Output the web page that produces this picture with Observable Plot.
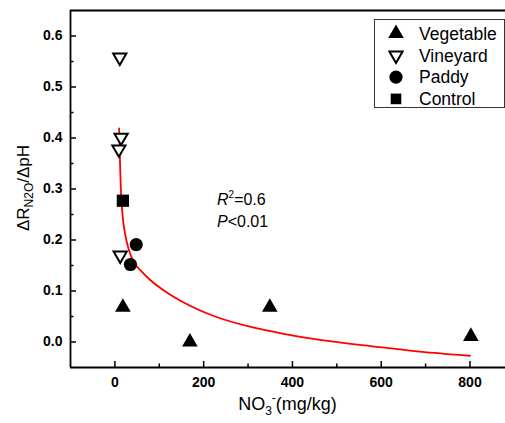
<!DOCTYPE html>
<html><head><meta charset="utf-8">
<script src="https://cdn.jsdelivr.net/npm/d3@7"></script>
<script src="https://cdn.jsdelivr.net/npm/@observablehq/plot@0.6"></script>
<style>body{margin:0;background:#fff}#chart svg{display:block}</style>
</head><body><div id="chart"></div>
<script>
// ---- data ----
const vegetableX = [18, 169, 349, 802];
const vegetableY = [0.068, 0.0, 0.068, 0.011];
const vineyardX = [11, 14, 9, 12];
const vineyardY = [0.558, 0.401, 0.378, 0.170];
const paddyX = [48, 35];
const paddyY = [0.191, 0.152];
const controlX = [18];
const controlY = [0.277];
const fitX = [9.5, 11, 13.3, 17, 23, 32, 45.5, 60.5, 79, 117, 154, 229, 304, 380, 462, 597, 687, 800];
const fitY = [0.419, 0.368, 0.303, 0.251, 0.212, 0.179, 0.153, 0.138, 0.122, 0.097, 0.078, 0.049, 0.030, 0.016, 0.004, -0.010, -0.019, -0.027];
const xMajorTicks = [0, 200, 400, 600, 800];
const xMinorTicks = [100, 300, 500, 700];
const yMajorTicks = [0, 0.1, 0.2, 0.3, 0.4, 0.5, 0.6];
const yMinorTicks = [0.05, 0.15, 0.25, 0.35, 0.45, 0.55];
const xDomain = [-100, 880];
const yDomain = [-0.05, 0.65];
const legendLabels = ["Vegetable", "Vineyard", "Paddy", "Control"];
const r2Text = "0.6";
const pText = "0.01";

const pts = (xs, ys) => xs.map((x, i) => ({x, y: ys[i]}));
const W = 505, H = 423, mL = 70, mR = 0, mT = 10, mB = 56;
const innerW = W - mL - mR, innerH = H - mT - mB;
const FONT = '"Liberation Sans", Arial, sans-serif';

const plot = Plot.plot({
  width: W, height: H,
  marginLeft: mL, marginRight: mR, marginTop: mT, marginBottom: mB,
  style: {fontFamily: FONT, background: "white", color: "black", overflow: "visible"},
  x: {domain: xDomain, label: null},
  y: {domain: yDomain, label: null},
  marks: [
    Plot.gridX(xMajorTicks, {stroke: "black", strokeOpacity: 1, strokeWidth: 1.5, insetTop: innerH - 6}),
    Plot.gridX(xMinorTicks, {stroke: "black", strokeOpacity: 1, strokeWidth: 1.5, insetTop: innerH - 3.5}),
    Plot.gridY(yMajorTicks, {stroke: "black", strokeOpacity: 1, strokeWidth: 1.5, insetRight: innerW - 6}),
    Plot.gridY(yMinorTicks, {stroke: "black", strokeOpacity: 1, strokeWidth: 1.5, insetRight: innerW - 3.5}),
    Plot.axisX(xMajorTicks, {tickSize: 0, tickPadding: 10, fontSize: 14, fontWeight: "bold", label: null}),
    Plot.axisY(yMajorTicks, {tickSize: 0, tickPadding: 8, fontSize: 14, fontWeight: "bold", label: null, tickFormat: d3.format(".1f")}),
    Plot.ruleX([xDomain[0]], {stroke: "black", strokeWidth: 1.8}),
    Plot.ruleY([yDomain[0], yDomain[1]], {stroke: "black", strokeWidth: 1.8}),
    Plot.line(pts(fitX, fitY), {x: "x", y: "y", stroke: "#ff0000", strokeWidth: 1.8, curve: "monotone-x"}),
    Plot.dot(pts(vegetableX, vegetableY), {x: "x", y: "y", symbol: "triangle", r: 5.8, fill: "black"}),
    Plot.dot(pts(vineyardX, vineyardY), {x: "x", y: "y", symbol: "triangle", rotate: 180, r: 4.9, fill: "white", stroke: "black", strokeWidth: 2}),
    Plot.dot(pts(paddyX, paddyY), {x: "x", y: "y", symbol: "circle", r: 6.6, fill: "black"}),
    Plot.dot(pts(controlX, controlY), {x: "x", y: "y", symbol: "square", r: 6.9, fill: "black"})
  ]
});
document.getElementById("chart").appendChild(plot);

const svg = d3.select(plot);
// y axis title
const yl = svg.append("text")
  .attr("transform", "translate(29,188) rotate(-90)")
  .attr("text-anchor", "middle")
  .attr("font-family", FONT).attr("font-size", 17).attr("fill", "black");
yl.append("tspan").text("ΔR");
yl.append("tspan").attr("font-size", 12).attr("dy", 4).text("N2O");
yl.append("tspan").attr("dy", -4).text("/ΔpH");

// x axis title
const xl = svg.append("text")
  .attr("x", 287.5).attr("y", 410)
  .attr("text-anchor", "middle")
  .attr("font-family", FONT).attr("font-size", 18).attr("fill", "black");
xl.append("tspan").text("NO");
xl.append("tspan").attr("font-size", 12).attr("dy", 5).text("3");
xl.append("tspan").attr("font-size", 12).attr("dy", -13).text("-");
xl.append("tspan").attr("dy", 8).text("(mg/kg)");

// stats annotation
const s1 = svg.append("text").attr("x", 217).attr("y", 205).attr("text-anchor", "start")
  .attr("font-family", FONT).attr("font-size", 16).attr("fill", "black");
s1.append("tspan").attr("font-style", "italic").text("R");
s1.append("tspan").attr("font-size", 10).attr("dy", -7).text("2");
s1.append("tspan").attr("dy", 7).text("=" + r2Text);
const s2 = svg.append("text").attr("x", 217).attr("y", 227).attr("text-anchor", "start")
  .attr("font-family", FONT).attr("font-size", 16).attr("fill", "black");
s2.append("tspan").attr("font-style", "italic").text("P");
s2.append("tspan").text("<" + pText);

// legend
const lg = svg.append("g").attr("text-anchor", "start");
lg.append("rect").attr("x", 374.5).attr("y", 19.5).attr("width", 130).attr("height", 88)
  .attr("fill", "white").attr("stroke", "#333").attr("stroke-width", 1);
const legendSym = [
  {type: d3.symbolTriangle, r: 5.8, fill: "black", stroke: "none", rot: 0},
  {type: d3.symbolTriangle, r: 4.9, fill: "white", stroke: "black", rot: 180},
  {type: d3.symbolCircle, r: 6.6, fill: "black", stroke: "none", rot: 0},
  {type: d3.symbolSquare, r: 6.0, fill: "black", stroke: "none", rot: 0}
];
legendLabels.forEach((lab, i) => {
  const cy = 33.5 + i * 21.8;
  const s = legendSym[i];
  lg.append("path")
    .attr("d", d3.symbol(s.type, Math.PI * s.r * s.r)())
    .attr("transform", `translate(396,${cy}) rotate(${s.rot})`)
    .attr("fill", s.fill).attr("stroke", s.stroke).attr("stroke-width", 2);
  lg.append("text").attr("x", 419).attr("y", cy + 6.2).attr("text-anchor", "start")
    .attr("font-family", FONT).attr("font-size", 17.5).attr("fill", "black").text(lab);
});
</script>
</body></html>
